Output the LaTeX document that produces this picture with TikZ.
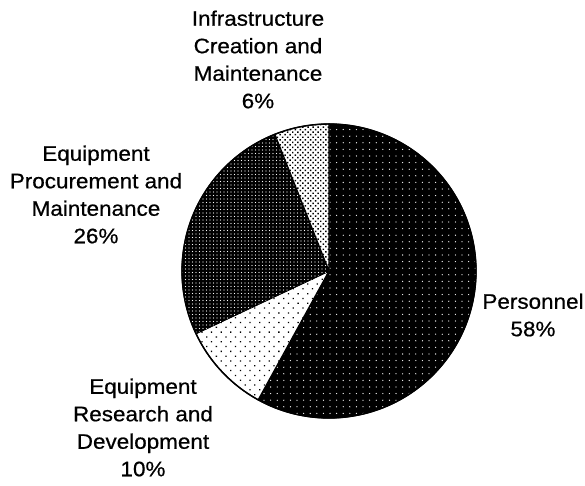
\documentclass[tikz,border=0pt]{standalone}
\usepackage{fontspec}
\setmainfont{Liberation Sans}[FakeStretch=1.07,FakeBold=0.6]
\usetikzlibrary{patterns.meta}
\begin{document}
\begin{tikzpicture}[x=1pt,y=1pt,
  lbl/.style={align=center,inner sep=0pt,font=\fontsize{21}{27.5}\selectfont},
  slice/.style={draw=black,line width=1.2pt,line join=round}]
\useasboundingbox (0,0) rectangle (585,486);
\def\R{147}
\coordinate (c) at (329,215);
% Personnel
\path[slice,fill=black,postaction={pattern={Dots[distance=6.6pt,radius=0.65pt]},pattern color=white}]
  (c) -- ++(-118.8:\R) arc[start angle=-118.8,end angle=90,radius=\R] -- cycle;
% R&D
\path[slice,fill=white,postaction={pattern={Dots[distance=6.8pt,radius=0.9pt,angle=45]},pattern color=black}]
  (c) -- ++(-154.8:\R) arc[start angle=-154.8,end angle=-118.8,radius=\R] -- cycle;
% Procurement
\path[slice,fill=black,postaction={pattern={Dots[distance=3.5pt,radius=0.7pt]},pattern color=white}]
  (c) -- ++(111.6:\R) arc[start angle=111.6,end angle=205.2,radius=\R] -- cycle;
% Infrastructure
\path[slice,fill=white,postaction={pattern={Dots[distance=3.6pt,radius=1.05pt,angle=45]},pattern color=black}]
  (c) -- ++(90:\R) arc[start angle=90,end angle=111.6,radius=\R] -- cycle;
\draw[line width=1.4pt] (c) circle[radius=\R];
% labels
\node[lbl] (infra) at (258,426.5) {Infrastructure\\Creation and\\Maintenance\\6\%};
\node[lbl] (proc) at (96,291.5) {Equipment\\Procurement and\\Maintenance\\26\%};
\node[lbl] (pers) at (533,171) {Personnel\\58\%};
\node[lbl] (rd) at (143,58.5) {Equipment\\Research and\\Development\\10\%};
\end{tikzpicture}
\end{document}
